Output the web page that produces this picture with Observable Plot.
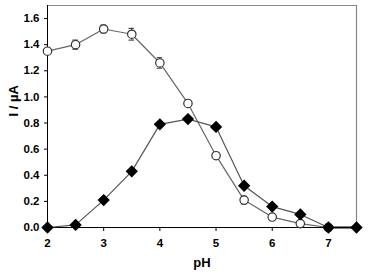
<!DOCTYPE html>
<html>
<head>
<meta charset="utf-8">
<script src="https://cdn.jsdelivr.net/npm/d3@7"></script>
<script src="https://cdn.jsdelivr.net/npm/@observablehq/plot@0.6"></script>
<style>
  html, body { margin: 0; padding: 0; background: #fff; }
  svg { display: block; }
</style>
</head>
<body>
<div id="chart"></div>
<script>
const pHOpen = [2, 2.5, 3, 3.5, 4, 4.5, 5, 5.5, 6, 6.5, 7];
const currentOpen = [1.35, 1.40, 1.52, 1.48, 1.26, 0.95, 0.55, 0.21, 0.08, 0.03, 0.0];
const errorOpen = [0.02, 0.035, 0.03, 0.045, 0.04, 0.01, 0.0, 0.03, 0.0, 0.0, 0.0];
const pHFilled = [2, 2.5, 3, 3.5, 4, 4.5, 5, 5.5, 6, 6.5, 7, 7.5];
const currentFilled = [0.0, 0.02, 0.21, 0.43, 0.79, 0.83, 0.77, 0.32, 0.16, 0.10, 0.0, 0.0];
const xTicks = [2, 3, 4, 5, 6, 7];
const yTicks = [0, 0.2, 0.4, 0.6, 0.8, 1.0, 1.2, 1.4, 1.6];
const xDomain = [2, 7.5];
const yDomain = [0, 1.7];

const openData = pHOpen.map((x, i) => ({x, y: currentOpen[i], e: errorOpen[i]}));
const filledData = pHFilled.map((x, i) => ({x, y: currentFilled[i]}));
const errData = openData.filter(d => d.e > 0);
const capHalf = 0.05;

const chart = Plot.plot({
  width: 369,
  height: 274,
  marginLeft: 47,
  marginRight: 13,
  marginTop: 5,
  marginBottom: 47,
  style: {fontFamily: "Liberation Sans, Arial, sans-serif", fontWeight: "bold", fontSize: "11px", color: "#000", background: "#fff"},
  x: {domain: xDomain, ticks: xTicks, tickFormat: d => String(d), label: null},
  y: {domain: yDomain, ticks: yTicks, tickFormat: d => d.toFixed(1), label: null},
  marks: [
    Plot.ruleY([yDomain[1]], {stroke: "#888", strokeWidth: 1.2}),
    Plot.ruleX([xDomain[1]], {stroke: "#888", strokeWidth: 1.2}),
    Plot.axisX({ticks: xTicks, tickSize: 4, tickPadding: 7, tickFormat: d => String(d), fontSize: 11.5, fontWeight: "bold", label: null, stroke: "#000"}),
    Plot.axisY({ticks: yTicks, tickSize: 3, tickPadding: 5, tickFormat: d => d.toFixed(1), fontSize: 11.5, fontWeight: "bold", label: null}),
    Plot.ruleX([xDomain[0]], {stroke: "#000", strokeWidth: 1}),
    Plot.ruleY([0], {stroke: "#000", strokeWidth: 1}),
    Plot.line(openData, {x: "x", y: "y", stroke: "#666", strokeWidth: 1.2}),
    Plot.line(filledData, {x: "x", y: "y", stroke: "#555", strokeWidth: 1.2}),
    Plot.line(filledData.slice(-2), {x: "x", y: "y", stroke: "#000", strokeWidth: 2}),
    Plot.ruleX(errData, {x: "x", y1: d => d.y - d.e, y2: d => d.y + d.e, stroke: "#333", strokeWidth: 1}),
    Plot.ruleY(errData, {y: d => d.y + d.e, x1: d => d.x - capHalf, x2: d => d.x + capHalf, stroke: "#333", strokeWidth: 1}),
    Plot.ruleY(errData, {y: d => d.y - d.e, x1: d => d.x - capHalf, x2: d => d.x + capHalf, stroke: "#333", strokeWidth: 1}),
    Plot.dot(openData, {x: "x", y: "y", r: 4.2, fill: "#fff", stroke: "#333", strokeWidth: 1.2}),
    Plot.dot(filledData, {x: "x", y: "y", symbol: "diamond2", r: 4.6, fill: "#000", stroke: "#000"}),
    Plot.text(["I / µA"], {frameAnchor: "left", dx: -34, rotate: -90, fontSize: 13, fontWeight: "bold"}),
    Plot.text(["pH"], {frameAnchor: "bottom", dy: 39, fontSize: 13, fontWeight: "bold"})
  ]
});
document.getElementById("chart").appendChild(chart);
</script>
</body>
</html>
